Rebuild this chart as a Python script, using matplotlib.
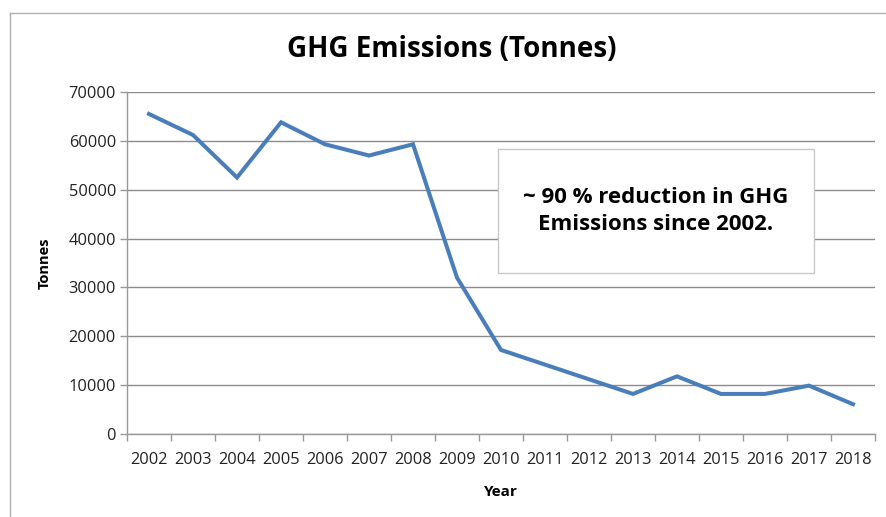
import matplotlib
matplotlib.use("Agg")
import matplotlib.pyplot as plt
from matplotlib.lines import Line2D
from matplotlib.patches import Rectangle

years = [str(y) for y in range(2002, 2019)]
emissions = [65500, 61200, 52500, 63800, 59300, 57000, 59300, 32000, 17200,
             14200, 11200, 8200, 11800, 8200, 8200, 9900, 6100]
y_ticks = [0, 10000, 20000, 30000, 40000, 50000, 60000, 70000]
title = "GHG Emissions (Tonnes)"
note = "~ 90 % reduction in GHG\nEmissions since 2002."

plt.rcParams['font.family'] = ['Open Sans', 'DejaVu Sans']

W, H = 887, 517
fig = plt.figure(figsize=(W / 100, H / 100), dpi=100)
ax = fig.add_axes([127 / W, 1 - 434 / H, (875 - 127) / W, (434 - 92) / H])

x = list(range(len(years)))
ax.plot(x, emissions, color='#4a7ebb', lw=2.9, solid_joinstyle='miter')

ax.set_xlim(-0.5, len(years) - 0.5)
ax.set_ylim(0, 70000)
ax.set_yticks(y_ticks)
ax.set_yticklabels([str(v) for v in y_ticks], fontsize=11.8, color='#222222')
ax.set_xticks(x)
ax.set_xticklabels(years, fontsize=11.8, color='#222222')
ax.tick_params(axis='x', length=0, pad=13)
ax.set_xticks([i - 0.5 for i in range(len(years) + 1)], minor=True)
ax.tick_params(axis='x', which='minor', length=5, color='#999999', width=1)
ax.tick_params(axis='y', length=5, color='#999999', width=1, pad=3)

ax.grid(axis='y', color='#8c8c8c', lw=1)
ax.set_axisbelow(True)
for s in ['top', 'right']:
    ax.spines[s].set_visible(False)
for s in ['left', 'bottom']:
    ax.spines[s].set_color('#999999')
    ax.spines[s].set_linewidth(1)

ax.set_xlabel('Year', fontsize=11, fontweight='bold', labelpad=12)
ax.set_ylabel('Tonnes', fontsize=10.5, fontweight='bold', labelpad=12)

fig.text(452 / W, 1 - 50 / H, title, fontsize=20, fontweight='bold',
         ha='center', va='center')

# annotation box
fig.patches.append(Rectangle((498 / W, 1 - 273 / H), (814 - 498) / W, (273 - 149) / H,
                             transform=fig.transFigure, facecolor='white',
                             edgecolor='#c8c8c8', lw=1, zorder=5))
fig.text(656 / W, 1 - 211 / H, note, fontsize=16, fontweight='bold',
         ha='center', va='center', linespacing=1.4, zorder=6)

# outer frame lines
fig.add_artist(Line2D([10 / W, 10 / W], [0, 1 - 13 / H], transform=fig.transFigure,
                      color='#b0b0b0', lw=1))
fig.add_artist(Line2D([10 / W, 1], [1 - 13 / H, 1 - 13 / H], transform=fig.transFigure,
                      color='#b0b0b0', lw=1))

fig.savefig('out.png', dpi=100)
